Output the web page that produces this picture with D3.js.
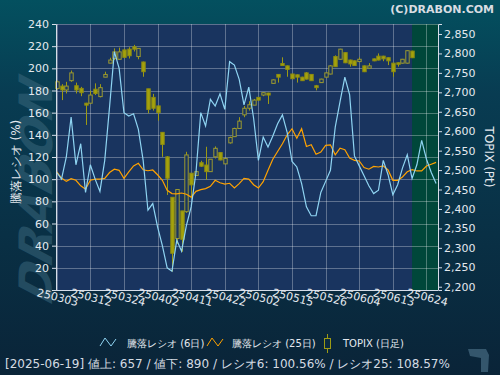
<!DOCTYPE html>
<meta charset="utf-8">
<script src="https://d3js.org/d3.v7.min.js"></script>
<style>
  body { margin: 0; background: #0a2438; }
  * { font-family: 'DejaVu Sans', sans-serif; }
</style>
<svg width="500" height="375"></svg>
<script>
// x axis labels (every 7 trading days)
var tickLabels = ["250303","250312","250324","250402","250411","250422","250502","250515","250526","250604","250613","250624"];
var tickIdx = [0,7,14,21,28,35,42,49,56,63,70,77];

// TOPIX daily candles, index 0 = 2025-03-03
var open  = [2710,2716,2706,2730,2717,2710,2672,2672,2708,2689,2739,2775,2787,2785,2809,2811,2817,2792,2778,2709,
             2687,2665,2597,2534,2430,2324,2395,2393,2492,2486,2519,2513,2496,2534,2545,2516,2570,2586,2607,2642,
             2659,2667,2687,2693,2698,2723,2746,2774,2768,2747,2745,2739,2750,2746,2717,2725,2739,2747,2792,2785,
             2802,2783,2781,2779,2768,2762,2786,2793,2793,2789,2775,2776,2775,2775,2806];
var close = [2727,2706,2716,2750,2706,2699,2667,2693,2697,2712,2746,2783,2804,2804,2790,2794,2811,2813,2753,2656,
             2659,2648,2566,2479,2286,2450,2322,2539,2462,2496,2510,2496,2528,2556,2526,2530,2584,2607,2626,2659,
             2668,2680,2680,2699,2693,2732,2739,2769,2759,2735,2739,2730,2734,2730,2712,2734,2750,2768,2766,2811,
             2776,2773,2769,2785,2753,2768,2781,2783,2786,2781,2753,2772,2785,2807,2789];
var high  = [2730,2721,2727,2756,2725,2714,2673,2704,2723,2721,2753,2789,2813,2815,2812,2816,2822,2813,2779,2709,
             2696,2666,2598,2536,2430,2450,2395,2547,2492,2497,2524,2560,2528,2561,2546,2532,2586,2609,2636,2665,
             2677,2683,2688,2700,2699,2733,2747,2790,2769,2748,2746,2740,2752,2747,2719,2735,2751,2770,2795,2812,
             2803,2784,2782,2790,2769,2775,2787,2800,2794,2790,2776,2777,2786,2808,2807];
var low   = [2707,2680,2697,2727,2697,2690,2616,2670,2693,2687,2739,2775,2783,2783,2788,2787,2805,2785,2740,2646,
             2653,2627,2534,2436,2239,2310,2290,2390,2427,2485,2508,2475,2496,2530,2525,2515,2568,2585,2606,2636,
             2653,2667,2678,2690,2670,2722,2725,2768,2740,2734,2725,2729,2733,2729,2705,2724,2738,2746,2765,2784,
             2775,2766,2768,2778,2752,2761,2780,2782,2780,2770,2740,2766,2774,2774,2788];

// 騰落レシオ (6日) and (25日), %
var ratio6  = [106,100,120,156,113,132,88,113,100,89,117,165,215,200,160,157,159,145,117,72,
               78,57,40,20,17,45,35,58,75,106,160,148,172,166,177,163,206,203,190,167,
               183,155,117,138,129,139,150,158,142,116,111,96,75,67,67,88,98,108,147,170,
               192,176,121,112,103,94,87,90,117,104,86,95,110,122,100.56,113,135,118,106,96];
var ratio25 = [106.7,101,98,100.5,99,94,91,99,100,100,100.7,106,109,108,100.7,106.5,112,114.3,108.5,107.6,
               108.3,104,99,90,87,86.8,87.5,86.4,83.8,89,90.5,91.5,93.5,99,96.8,95.6,96.3,92,96,100.7,
               100,95,92,97.7,108,118,125,132,140,145.5,137,145.5,129.5,131,122.5,124.5,130.5,131,122,127.9,
               126.5,119,117,116.4,110.5,109,111.5,111,111.9,108.3,99,99,102,106.7,108.57,107.4,107.4,111.9,113.5,115.2];

var leftTicks = [20,40,60,80,100,120,140,160,180,200,220,240];
var rightTicks = [2200,2250,2300,2350,2400,2450,2500,2550,2600,2650,2700,2750,2800,2850];
var selIdx = 74; // 2025-06-19

var svg = d3.select("svg");
var x0 = 56, x1 = 438, yTop = 24, yBot = 290;

var defs = svg.append("defs");
var bg = defs.append("linearGradient").attr("id", "bg").attr("x1", 0).attr("y1", 0).attr("x2", 0).attr("y2", 1);
bg.append("stop").attr("offset", "0").attr("stop-color", "#03505f");
bg.append("stop").attr("offset", "0.25").attr("stop-color", "#083c52");
bg.append("stop").attr("offset", "1").attr("stop-color", "#0a2438");
svg.append("rect").attr("width", 500).attr("height", 375).attr("fill", "url(#bg)");

// watermark
svg.append("text")
    .attr("transform", "translate(52,305) rotate(-90) skewX(-18)")
    .attr("font-size", 46).attr("font-weight", "bold").attr("font-style", "italic")
    .attr("fill", "#3d6b80").attr("opacity", 0.5)
    .text("DRABON");

svg.append("text")
    .attr("x", 494).attr("y", 13)
    .attr("text-anchor", "end").attr("font-size", 11).attr("font-weight", "bold")
    .attr("fill", "#d8dde2")
    .text("(C)DRABON.COM");

var x = d3.scaleLinear().domain([-0.15, 79.4]).range([x0, x1]);
var yL = d3.scaleLinear().domain([0, 240]).range([yBot, yTop]);
var yR = d3.scaleLinear().domain([2191.6, 2875.7]).range([yBot, yTop]);

svg.append("rect").attr("x", x0).attr("y", yTop).attr("width", x1 - x0).attr("height", yBot - yTop)
    .attr("fill", "#19345f");
svg.append("rect").attr("x", x(selIdx)).attr("y", yTop).attr("width", x1 - x(selIdx)).attr("height", yBot - yTop)
    .attr("fill", "#00473a");

// grid
var grid = svg.append("g").attr("stroke", "#ffffff").attr("stroke-opacity", 0.3).attr("stroke-width", 1);
leftTicks.forEach(function(v) {
  grid.append("line").attr("x1", x0).attr("x2", x1).attr("y1", Math.round(yL(v)) + 0.5).attr("y2", Math.round(yL(v)) + 0.5);
});
tickIdx.forEach(function(i) {
  grid.append("line").attr("y1", yTop).attr("y2", yBot).attr("x1", Math.round(x(i)) + 0.5).attr("x2", Math.round(x(i)) + 0.5);
});

// candles
var cw = 3.4;
var candles = svg.append("g");
open.forEach(function(o, i) {
  var c = close[i], cx = Math.round(x(i)) + 0.5;
  var up = c >= o;
  candles.append("line").attr("x1", cx).attr("x2", cx)
      .attr("y1", yR(high[i])).attr("y2", yR(low[i]))
      .attr("stroke", "#9c9a14").attr("stroke-width", 1);
  var top = yR(Math.max(o, c)), bot = yR(Math.min(o, c));
  candles.append("rect")
      .attr("x", cx - cw / 2).attr("y", top).attr("width", cw).attr("height", Math.max(1, bot - top))
      .attr("fill", up ? "#19345f" : "#a4a20c")
      .attr("stroke", up ? "#9c9a30" : "#8e8c10").attr("stroke-width", 1);
});

var line6 = d3.line().x(function(d, i) { return x(i); }).y(function(d) { return yL(d); });
svg.append("path").datum(ratio25).attr("d", line6)
    .attr("fill", "none").attr("stroke", "#ffa200").attr("stroke-width", 1.2);
svg.append("path").datum(ratio6).attr("d", line6)
    .attr("fill", "none").attr("stroke", "#8fd4f2").attr("stroke-width", 1.2);

// axes
var axL = svg.append("g").attr("transform", "translate(" + x0 + ",0)")
    .call(d3.axisLeft(yL).tickValues(leftTicks).tickSize(4).tickPadding(3));
var axR = svg.append("g").attr("transform", "translate(" + x1 + ",0)")
    .call(d3.axisRight(yR).tickValues(rightTicks).tickSize(4).tickPadding(2).tickFormat(d3.format(",")));
[axL, axR].forEach(function(a) {
  a.select(".domain").attr("stroke", "#d6dde8");
  a.selectAll(".tick line").attr("stroke", "#d6dde8");
  a.selectAll("text").attr("fill", "#e4e9ef").attr("font-size", 11).attr("font-family", "DejaVu Sans");
});
svg.append("line").attr("x1", x0).attr("x2", x1).attr("y1", yBot + 0.5).attr("y2", yBot + 0.5)
    .attr("stroke", "#d6dde8");

var xl = svg.append("g");
tickIdx.forEach(function(i, k) {
  xl.append("text")
      .attr("transform", "translate(" + x(i) + "," + (yBot + 11) + ") rotate(14)")
      .attr("text-anchor", "middle").attr("font-size", 11).attr("fill", "#e4e9ef")
      .text(tickLabels[k]);
});

svg.append("text")
    .attr("transform", "translate(20," + ((yTop + yBot) / 2 + 5) + ") rotate(-90)")
    .attr("text-anchor", "middle").attr("font-size", 12).attr("fill", "#e4e9ef")
    .text("騰落レシオ (%)");
svg.append("text")
    .attr("transform", "translate(485," + ((yTop + yBot) / 2) + ") rotate(90)")
    .attr("text-anchor", "middle").attr("font-size", 12).attr("fill", "#e4e9ef")
    .text("TOPIX (Pt)");

// legend
var lg = svg.append("g").attr("font-size", 10).attr("fill", "#e4e9ef");
function zig(x, col) {
  lg.append("path").attr("d", "M" + x + ",346 L" + (x + 5) + ",338 L" + (x + 11) + ",346 L" + (x + 16) + ",339")
      .attr("fill", "none").attr("stroke", col).attr("stroke-width", 1);
}
zig(100, "#8fd4f2");
lg.append("text").attr("x", 127).attr("y", 347).text("騰落レシオ (6日)");
zig(207, "#ffa200");
lg.append("text").attr("x", 232).attr("y", 347).text("騰落レシオ (25日)");
lg.append("line").attr("x1", 327.5).attr("x2", 327.5).attr("y1", 334).attr("y2", 353).attr("stroke", "#9c9a14");
lg.append("rect").attr("x", 324.5).attr("y", 338.5).attr("width", 6).attr("height", 10)
    .attr("fill", "#0a2a40").attr("stroke", "#9c9a14");
lg.append("text").attr("x", 343).attr("y", 347).text("TOPIX (日足)");

svg.append("text").attr("x", 5).attr("y", 368).attr("font-size", 12).attr("fill", "#d4dbe3")
    .text("[2025-06-19]  値上: 657 / 値下: 890 / レシオ6: " + ratio6[selIdx].toFixed(2) + "% / レシオ25: " + ratio25[selIdx].toFixed(2) + "%");

svg.append("path").attr("d", "M468,349 L486,349 L489,355 L488,372 L481,372 L481,358 L470,356 Z")
    .attr("fill", "#34566c");
</script>
